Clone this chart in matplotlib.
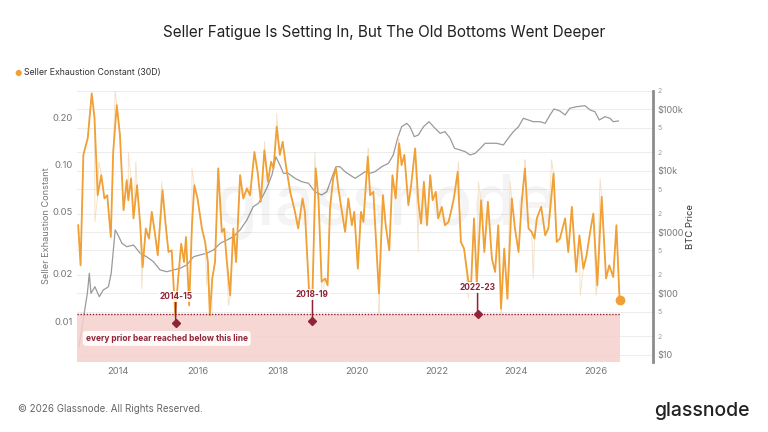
import matplotlib
matplotlib.use("Agg")
import matplotlib.pyplot as plt
import numpy as np
from matplotlib.ticker import FixedLocator, FixedFormatter, NullFormatter, NullLocator

plt.rcParams['font.family'] = ['Inter', 'DejaVu Sans']

# ---------------- data ----------------
sec_years = [2012.99, 2013.05, 2013.12, 2013.23, 2013.33, 2013.40, 2013.48, 2013.57, 2013.65, 2013.72,
             2013.81, 2013.87, 2013.96, 2014.04, 2014.13, 2014.21, 2014.25, 2014.32, 2014.38, 2014.47,
             2014.55, 2014.61, 2014.69, 2014.77, 2014.84, 2014.92, 2014.99, 2015.11, 2015.19, 2015.26,
             2015.34, 2015.43, 2015.51, 2015.58, 2015.65, 2015.70, 2015.78, 2015.85, 2015.91, 2015.99,
             2016.10, 2016.18, 2016.25, 2016.30, 2016.36, 2016.43, 2016.51, 2016.60, 2016.66, 2016.72,
             2016.81, 2016.89, 2016.96, 2017.06, 2017.14, 2017.23, 2017.31, 2017.42, 2017.50, 2017.58,
             2017.67, 2017.76, 2017.84, 2017.90, 2017.98, 2018.06, 2018.13, 2018.21, 2018.32, 2018.44,
             2018.52, 2018.63, 2018.69, 2018.79, 2018.88, 2018.96, 2019.03, 2019.11, 2019.20, 2019.26,
             2019.32, 2019.40, 2019.47, 2019.53, 2019.62, 2019.70, 2019.78, 2019.87, 2019.93, 2020.02,
             2020.10, 2020.16, 2020.27, 2020.33, 2020.41, 2020.47, 2020.55, 2020.65, 2020.72, 2020.81,
             2020.89, 2020.97, 2021.06, 2021.12, 2021.19, 2021.29, 2021.36, 2021.46, 2021.54, 2021.61,
             2021.68, 2021.76, 2021.84, 2021.90, 2021.98, 2022.04, 2022.13, 2022.21, 2022.30, 2022.38,
             2022.44, 2022.53, 2022.61, 2022.69, 2022.80, 2022.87, 2022.94, 2023.01, 2023.12, 2023.20,
             2023.29, 2023.39, 2023.47, 2023.55, 2023.62, 2023.70, 2023.78, 2023.89, 2023.97, 2024.06,
             2024.14, 2024.22, 2024.31, 2024.39, 2024.46, 2024.52, 2024.63, 2024.73, 2024.81, 2024.94,
             2025.02, 2025.10, 2025.23, 2025.31, 2025.40, 2025.51, 2025.59, 2025.69, 2025.77, 2025.86,
             2025.94, 2026.04, 2026.15, 2026.26, 2026.34, 2026.44, 2026.52, 2026.60]
sec_values = [0.0409, 0.0227, 0.115, 0.147, 0.284, 0.198, 0.0636, 0.0854, 0.0606, 0.0636,
              0.0344, 0.120, 0.239, 0.154, 0.051, 0.0794, 0.0591, 0.0814, 0.0452, 0.0737,
              0.0409, 0.0221, 0.039, 0.0336, 0.0498, 0.0362, 0.0263, 0.0685, 0.0409, 0.0276,
              0.0283, 0.0109, 0.0196, 0.0312, 0.0238, 0.0344, 0.0126, 0.0409, 0.0737, 0.0606,
              0.039, 0.032, 0.0238, 0.0109, 0.0187, 0.0238, 0.0943, 0.0371, 0.039, 0.0251,
              0.0146, 0.039, 0.0238, 0.0854, 0.0606, 0.0702, 0.0636, 0.120, 0.0897, 0.0577,
              0.123, 0.0774, 0.104, 0.0943, 0.174, 0.115, 0.1395, 0.099, 0.0668, 0.0498,
              0.039, 0.0606, 0.0498, 0.0161, 0.0153, 0.0943, 0.0606, 0.0178, 0.0187, 0.0169,
              0.0523, 0.0814, 0.0943, 0.0702, 0.0498, 0.0371, 0.0606, 0.0409, 0.0498, 0.0216,
              0.0498, 0.043, 0.112, 0.0636, 0.0668, 0.0353, 0.015, 0.0636, 0.0409, 0.0283,
              0.0854, 0.0606, 0.136, 0.099, 0.115, 0.0549, 0.0737, 0.1265, 0.0577, 0.042,
              0.0774, 0.0409, 0.0854, 0.0591, 0.0668, 0.0452, 0.0536, 0.0409, 0.043, 0.0523,
              0.0621, 0.0897, 0.032, 0.029, 0.0178, 0.0178, 0.0452, 0.0173, 0.0591, 0.0276,
              0.0577, 0.0251, 0.0206, 0.0409, 0.012, 0.029, 0.0139, 0.0606, 0.039, 0.0276,
              0.0577, 0.0943, 0.039, 0.0371, 0.0336, 0.0452, 0.0536, 0.0353, 0.039, 0.0876,
              0.032, 0.0336, 0.0452, 0.0276, 0.0536, 0.0206, 0.0353, 0.0216, 0.0263, 0.0371,
              0.0486, 0.0169, 0.0621, 0.0187, 0.0227, 0.0191, 0.0409, 0.0136]

# spikes of the faint daily series
spike_years = [2013.41, 2013.51, 2013.92, 2014.25, 2014.44, 2014.59, 2015.09, 2015.43, 2015.85, 2016.22,
               2016.35, 2016.77, 2017.67, 2017.98, 2018.88, 2018.94, 2019.11, 2020.28, 2020.55, 2021.04,
               2021.54, 2022.55, 2022.80, 2023.05, 2023.62, 2023.85, 2024.22, 2024.43, 2024.89, 2025.61,
               2026.01, 2026.11]
spike_values = [0.043, 0.104, 0.30, 0.120, 0.104, 0.0161, 0.0774, 0.00939, 0.0943, 0.0169,
                0.00985, 0.0126, 0.1395, 0.212, 0.0104, 0.120, 0.0139, 0.1265, 0.0109, 0.150,
                0.0276, 0.104, 0.0139, 0.0774, 0.0109, 0.0774, 0.107, 0.0187, 0.107, 0.0146,
                0.0146, 0.0814]

btc_years = [2013.01, 2013.22, 2013.27, 2013.31, 2013.41, 2013.52, 2013.62, 2013.75, 2013.82, 2013.92,
             2013.97, 2014.09, 2014.21, 2014.38, 2014.55, 2014.71, 2014.88, 2015.05, 2015.22, 2015.38,
             2015.55, 2015.72, 2015.89, 2016.05, 2016.22, 2016.39, 2016.56, 2016.73, 2016.89, 2017.06,
             2017.23, 2017.39, 2017.52, 2017.60, 2017.73, 2017.86, 2017.96, 2018.06, 2018.15, 2018.27,
             2018.44, 2018.61, 2018.78, 2018.94, 2019.11, 2019.24, 2019.36, 2019.47, 2019.57, 2019.70,
             2019.82, 2019.95, 2020.08, 2020.20, 2020.33, 2020.45, 2020.62, 2020.79, 2020.91, 2021.02,
             2021.12, 2021.25, 2021.33, 2021.44, 2021.54, 2021.67, 2021.81, 2021.96, 2022.09, 2022.21,
             2022.34, 2022.45, 2022.59, 2022.72, 2022.84, 2022.97, 2023.10, 2023.22, 2023.35, 2023.51,
             2023.68, 2023.80, 2023.93, 2024.06, 2024.18, 2024.31, 2024.43, 2024.60, 2024.73, 2024.85,
             2024.95, 2025.10, 2025.23, 2025.35, 2025.52, 2025.73, 2025.86, 2025.98, 2026.09, 2026.23,
             2026.36, 2026.44, 2026.57]
btc_prices = [13.5, 100, 212, 100, 128, 88, 113, 128, 212, 1079,
              952, 654, 576, 614, 449, 395, 328, 240, 225, 240,
              256, 290, 395, 422, 449, 509, 654, 741, 838, 1079,
              1570, 2587, 2939, 3548, 5164, 8511, 16900, 12380, 9070, 9070,
              7516, 6620, 6227, 4543, 4015, 4543, 7516, 11620, 11620, 9630,
              8511, 7516, 8511, 9630, 9070, 9630, 11620, 13210, 18040, 33800,
              52200, 59300, 52200, 35900, 38200, 52200, 63000, 49200, 40700, 43300,
              33800, 23200, 21800, 20400, 18040, 19200, 23200, 28000, 28000, 28000,
              26300, 33800, 43300, 52200, 71600, 67100, 63000, 63000, 59300, 81100,
              101600, 94200, 81100, 104200, 110700, 114900, 97800, 91700, 67100, 76000,
              71600, 63000, 64700]

threshold = 0.0111
bear_labels = ['2014-15', '2018-19', '2022-23']
bear_years = [2015.44, 2018.88, 2023.03]
bear_values = [0.0097, 0.0100, 0.0111]

year_ticks = [2014, 2016, 2018, 2020, 2022, 2024, 2026]
left_ticks = [0.01, 0.02, 0.05, 0.10, 0.20]
left_labels = ['0.01', '0.02', '0.05', '0.10', '0.20']
price_major = [10, 100, 1000, 10000, 100000]
price_major_labels = ['$10', '$100', '$1000', '$10k', '$100k']
price_minor = [20, 50, 200, 500, 2000, 5000, 20000, 50000, 200000]
price_minor_labels = ['2', '5', '2', '5', '2', '5', '2', '5', '2']

# ---------------- style ----------------
ORANGE = '#f0a035'
FAINT = '#f2e0c4'
GREY = '#9a9a9a'
DARKRED = '#8e2436'
PINK = '#f6d0cd'

fig = plt.figure(figsize=(7.68, 4.32), dpi=100)
W, H = 768, 432
ax = fig.add_axes([77 / W, 1 - 361.5 / H, (653 - 77) / W, (361.5 - 90.7) / H])
ax2 = ax.twinx()
ax.set_zorder(ax2.get_zorder() + 1)
ax.patch.set_visible(False)

xlim = (2012.96, 2027.44)
ax.set_xlim(*xlim)
ax.set_yscale('log')
ax.set_ylim(0.00552, 0.2955)
ax2.set_yscale('log')
ax2.set_ylim(7.72, 201800)

# grid from right axis
ax2.yaxis.set_major_locator(FixedLocator(price_major))
ax2.yaxis.set_major_formatter(FixedFormatter(price_major_labels))
ax2.yaxis.set_minor_locator(FixedLocator(price_minor))
ax2.yaxis.set_minor_formatter(FixedFormatter(price_minor_labels))
ax2.grid(True, which='both', axis='y', color='#ececec', lw=0.7)
ax2.tick_params(axis='y', which='major', length=0, labelsize=6.5, labelcolor='#777777', pad=3)
ax2.tick_params(axis='y', which='minor', length=0, labelsize=5, labelcolor='#999999', pad=3)
for s in ['top', 'left', 'bottom']:
    ax2.spines[s].set_visible(False)
ax2.spines['right'].set_color('#8c8c8c')
ax2.spines['right'].set_linewidth(2)
ax2.set_ylabel('BTC Price', fontsize=6.8, color='#333333', labelpad=2)

# BTC price
ax2.plot(btc_years, btc_prices, color=GREY, lw=0.9, zorder=2)

# left axis
for s in ['top', 'left', 'bottom', 'right']:
    ax.spines[s].set_visible(False)
ax.yaxis.set_major_locator(FixedLocator(left_ticks))
ax.yaxis.set_major_formatter(FixedFormatter(left_labels))
ax.yaxis.set_minor_locator(NullLocator())
ax.yaxis.set_minor_formatter(NullFormatter())
ax.tick_params(axis='y', length=0, labelsize=6.8, labelcolor='#777777', pad=3)
ax.set_xticks(year_ticks)
ax.set_xticklabels([str(y) for y in year_ticks])
ax.tick_params(axis='x', length=0, labelsize=6.8, labelcolor='#777777', pad=4)
ax.set_ylabel('Seller Exhaustion Constant', fontsize=6.6, color='#777777', labelpad=1)

# watermark
ax.text(0.537, 0.57, 'glassnode', transform=ax.transAxes, ha='center', va='center',
        fontsize=50, color='#000000', alpha=0.045, fontweight='medium', zorder=0)

# red zone
x_end = sec_years[-1]
ax.fill_between([xlim[0], x_end], 0.00552, threshold, color=PINK, alpha=0.85, lw=0, zorder=1)
ax.hlines(threshold, xlim[0], x_end, colors=DARKRED, linestyles=(0, (1, 1.2)), lw=1.0, zorder=5)

# faint daily series (orange points + spikes)
fy = np.concatenate([sec_years, spike_years])
fv = np.concatenate([sec_values, spike_values])
order = np.argsort(fy)
ax.plot(fy[order], fv[order], color=FAINT, lw=0.6, zorder=2)

# smooth series
ax.plot(sec_years, sec_values, color=ORANGE, lw=1.3, zorder=3)
ax.plot([sec_years[-1]], [sec_values[-1]], 'o', color=ORANGE, ms=6, zorder=6)

# bear markers
for lab, yx, yv in zip(bear_labels, bear_years, bear_values):
    ax.annotate(lab, xy=(yx, yv), xytext=(0, 16), textcoords='offset points',
                ha='center', va='bottom', fontsize=6, fontweight='bold', color=DARKRED,
                bbox=dict(boxstyle='square,pad=0.15', fc='white', ec='none', alpha=0.85),
                arrowprops=dict(arrowstyle='-', color=DARKRED, lw=1.1, shrinkA=0, shrinkB=0),
                zorder=7)
    ax.plot([yx], [yv], marker='D', color=DARKRED, ms=4, zorder=8)

ax.text(2013.18, 0.00775, 'every prior bear reached below this line', fontsize=6, fontweight='bold',
        color=DARKRED, ha='left', va='center', zorder=7,
        bbox=dict(boxstyle='round,pad=0.35', fc='white', ec='none', alpha=0.9))

# titles, legend, footer
fig.text(0.5, 1 - 32 / H, 'Seller Fatigue Is Setting In, But The Old Bottoms Went Deeper',
         ha='center', va='center', fontsize=11, color='#222222')
fig.text(18 / W, 1 - 73 / H, '\u25cf', ha='center', va='center', fontsize=6, color=ORANGE)
fig.text(24 / W, 1 - 73 / H, 'Seller Exhaustion Constant (30D)', ha='left', va='center',
         fontsize=6.3, color='#333333')
fig.text(18 / W, 1 - 409 / H, '\u00a9 2026 Glassnode. All Rights Reserved.', ha='left', va='center',
         fontsize=7, color='#666666')
fig.text(750 / W, 1 - 411 / H, 'glassnode', ha='right', va='center', fontsize=14,
         color='#222222', fontweight='medium')

fig.savefig('out.png', dpi=100)
